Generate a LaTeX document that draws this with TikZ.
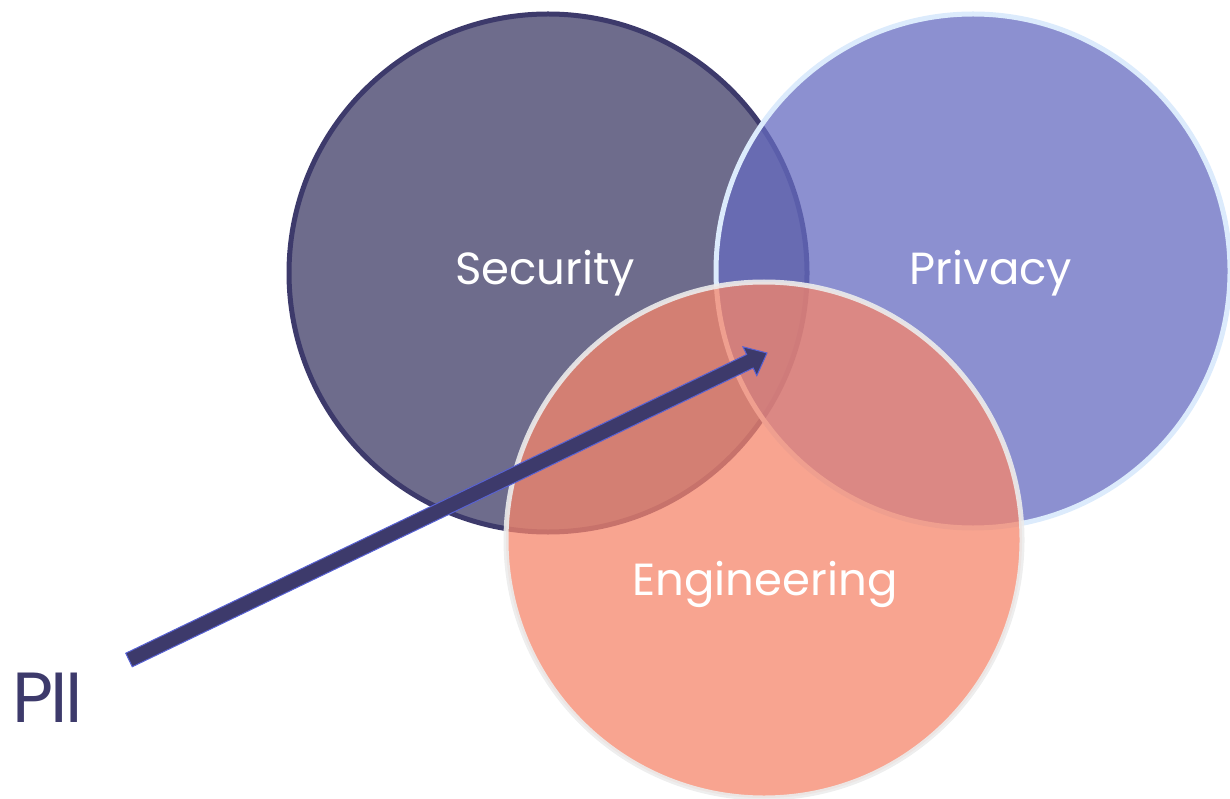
\documentclass[tikz,border=0pt]{standalone}
\usepackage{fontspec}
\setmainfont{Poppins}
\usetikzlibrary{calc}

\definecolor{secfill}{RGB}{110,108,140}
\definecolor{secline}{RGB}{61,58,107}
\definecolor{privfill}{RGB}{102,107,192}
\definecolor{privline}{RGB}{220,235,252}
\definecolor{engfill}{RGB}{246,134,107}
\definecolor{engline}{RGB}{236,236,236}
\definecolor{arrowline}{RGB}{88,98,212}

\tikzset{every picture/.style={line width=0.75pt}}
\tikzset{
  circlelabel/.style={text=white, inner sep=0pt, anchor=base, font=\fontsize{45}{54}\selectfont},
  pillabel/.style={text=secline, inner sep=0pt, anchor=base west, font=\fontsize{71}{85}\selectfont\addfontfeatures{LetterSpace=-4}}
}

\begin{document}
\begin{tikzpicture}[x=1pt,y=1pt,yscale=-1,xscale=1]
\useasboundingbox (0,0) rectangle (1230,799);

%Shape: Circle [Security]
\draw [fill=secfill, draw=secline, line width=5] (548,273) circle (259);
%Shape: Circle [Privacy]
\draw [fill=privfill, fill opacity=0.75, draw=privline, line width=5] (973,271) circle (257);
%Shape: Circle [Engineering]
\draw [fill=engfill, fill opacity=0.75, draw=engline, draw opacity=0.9, line width=5] (764,540) circle (258);

% Text Node
\node [circlelabel] (security) at (545,285) {Security};
\node [circlelabel] (privacy) at (991,285) {Privacy};
\node [circlelabel] (engineering) at (765,595) {Engineering};
\node [pillabel] (pii) at (12,722) {PII};

%Arrow [PII]
\coordinate (tail) at (129,660);
\coordinate (tip) at (767,353);
\coordinate (base) at ($(tip)!19pt!(tail)$);
\draw [fill=secline, draw=arrowline, line width=1, line join=miter]
  ($(tail)!7.5pt!90:(tip)$) -- ($(base)!7.5pt!-90:(tail)$) -- ($(base)!16pt!-90:(tail)$) -- (tip)
  -- ($(base)!16pt!90:(tail)$) -- ($(base)!7.5pt!90:(tail)$) -- ($(tail)!7.5pt!-90:(tip)$) -- cycle;

\end{tikzpicture}
\end{document}
